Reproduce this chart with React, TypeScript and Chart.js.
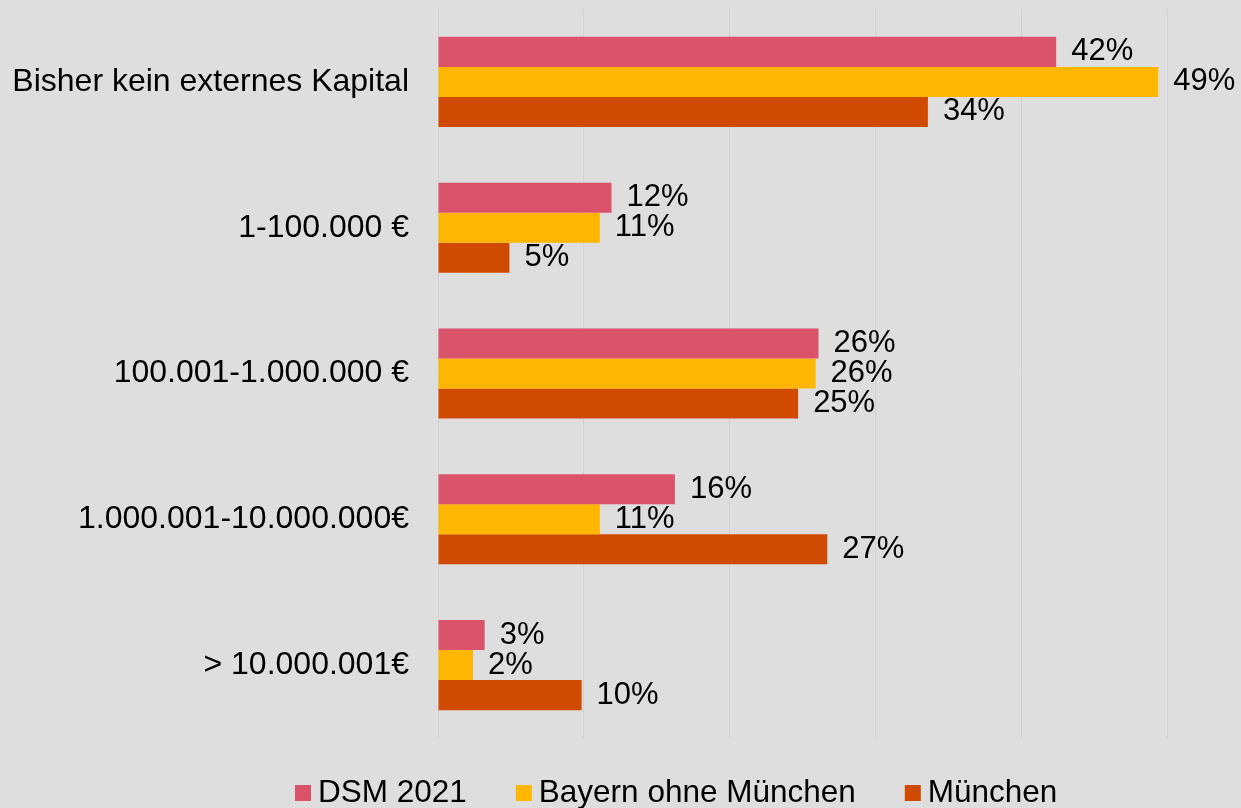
import React, { useEffect, useRef } from "react";
import { Chart, registerables } from "chart.js";

Chart.register(...registerables);

const categories = [
  "Bisher kein externes Kapital",
  "1-100.000 €",
  "100.001-1.000.000 €",
  "1.000.001-10.000.000€",
  "> 10.000.001€",
];
const seriesNames = ["DSM 2021", "Bayern ohne München", "München"];
const dsm2021 = [42.4, 11.9, 26.1, 16.25, 3.2];
const bayernOhneMuenchen = [49.4, 11.1, 25.9, 11.1, 2.4];
const muenchen = [33.6, 4.9, 24.7, 26.7, 9.85];
const colors = ["#DB536A", "#FFB600", "#D04A02"];
const xTicks = [0, 10, 20, 30, 40, 50];

const FONT = "'Liberation Sans', Arial, sans-serif";

const valueLabels = {
  id: "valueLabels",
  afterDatasetsDraw(chart: any) {
    const ctx = chart.ctx;
    ctx.save();
    ctx.font = `31px ${FONT}`;
    ctx.fillStyle = "#000";
    ctx.textAlign = "left";
    ctx.textBaseline = "middle";
    chart.data.datasets.forEach((ds: any, i: number) => {
      const meta = chart.getDatasetMeta(i);
      meta.data.forEach((bar: any, j: number) => {
        const v = ds.data[j];
        ctx.fillText(`${Math.round(v)}%`, bar.x + 15, bar.y);
      });
    });
    ctx.restore();
  },
};

const customLegend = {
  id: "customLegend",
  afterDraw(chart: any) {
    const ctx = chart.ctx;
    ctx.save();
    ctx.font = `31.5px ${FONT}`;
    ctx.textBaseline = "middle";
    ctx.textAlign = "left";
    const cy = 793;
    let x = 295;
    chart.data.datasets.forEach((ds: any) => {
      ctx.fillStyle = ds.backgroundColor;
      ctx.fillRect(x, cy - 8, 16, 16);
      x += 16 + 7;
      ctx.fillStyle = "#000";
      ctx.fillText(ds.label, x, cy);
      x += ctx.measureText(ds.label).width + 49;
    });
    ctx.restore();
  },
};

export default function App() {
  const ref = useRef<HTMLCanvasElement>(null);
  useEffect(() => {
    const canvas = ref.current!;
    const seriesData = [dsm2021, bayernOhneMuenchen, muenchen];
    const chart = new Chart(canvas, {
      type: "bar",
      data: {
        labels: categories,
        datasets: seriesNames.map((name, i) => ({
          label: name,
          data: seriesData[i],
          backgroundColor: colors[i],
          borderWidth: 0,
          categoryPercentage: 0.618,
          barPercentage: 1.0,
        })),
      },
      options: {
        indexAxis: "y",
        responsive: false,
        animation: false,
        maintainAspectRatio: false,
        layout: { padding: { top: 9, right: 74, bottom: 70, left: 0 } },
        plugins: {
          legend: { display: false },
          tooltip: { enabled: false },
          title: { display: false },
        },
        scales: {
          x: {
            min: xTicks[0],
            max: xTicks[xTicks.length - 1],
            afterBuildTicks: (scale: any) => {
              scale.ticks = xTicks.map((v) => ({ value: v }));
            },
            ticks: { display: false },
            grid: { color: "#d2d2d2", lineWidth: 1, drawTicks: false },
            border: { display: false },
            afterFit: (scale: any) => {
              scale.height = 0;
              scale.paddingLeft = 0;
              scale.paddingRight = 0;
            },
          },
          y: {
            ticks: {
              color: "#000",
              padding: 29,
              font: { family: FONT, size: 32 },
            },
            grid: { display: false, drawTicks: false },
            border: { display: false },
            afterFit: (scale: any) => {
              scale.width = 438;
              scale.paddingTop = 0;
              scale.paddingBottom = 0;
            },
          },
        },
      },
      plugins: [valueLabels, customLegend],
    });
    return () => chart.destroy();
  }, []);

  return (
    <div
      style={{
        position: "fixed",
        left: 0,
        top: 0,
        width: 1241,
        height: 808,
        background: "#dedede",
      }}
    >
      <canvas ref={ref} width={1241} height={808} style={{ display: "block" }} />
    </div>
  );
}
